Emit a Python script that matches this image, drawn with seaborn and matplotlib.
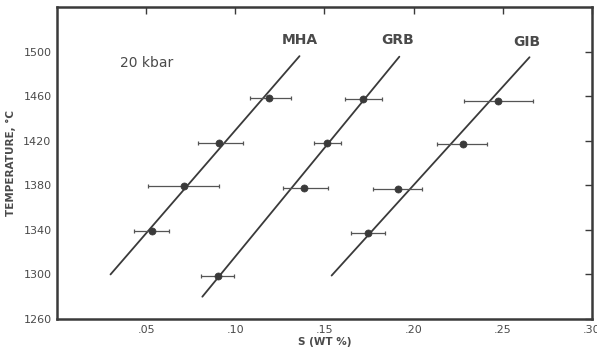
import pandas as pd
import matplotlib
matplotlib.use('Agg')
import matplotlib.pyplot as plt
import seaborn as sns

# Data (S in wt %, temperature in deg C)
samples = ['MHA', 'GRB', 'GIB']

mha_s = [0.053, 0.071, 0.091, 0.119]
mha_t = [1339, 1379, 1418, 1458.5]
mha_lo = [0.043, 0.051, 0.079, 0.108]
mha_hi = [0.063, 0.091, 0.1045, 0.131]

grb_s = [0.0905, 0.1387, 0.1516, 0.1718]
grb_t = [1299, 1378, 1418, 1457.5]
grb_lo = [0.081, 0.127, 0.144, 0.1615]
grb_hi = [0.099, 0.152, 0.159, 0.182]

gib_s = [0.1746, 0.1914, 0.2275, 0.2475]
gib_t = [1337, 1377, 1417, 1455.5]
gib_lo = [0.165, 0.177, 0.213, 0.228]
gib_hi = [0.184, 0.2045, 0.241, 0.267]

# hand-drawn trend lines (end points)
mha_line_s = [0.030, 0.136]
mha_line_t = [1300, 1496]
grb_line_s = [0.0815, 0.192]
grb_line_t = [1280, 1495.5]
gib_line_s = [0.154, 0.265]
gib_line_t = [1299, 1495]

# label positions
label_s = [0.136, 0.191, 0.2636]
label_t = [1504, 1504, 1502]

xticks = [0.05, 0.10, 0.15, 0.20, 0.25, 0.30]
xticklabels = ['.05', '.10', '.15', '.20', '.25', '.30']
yticks = [1260, 1300, 1340, 1380, 1420, 1460, 1500]

# Step 1: build tables
pts = pd.DataFrame({
    'sample': ['MHA'] * 4 + ['GRB'] * 4 + ['GIB'] * 4,
    'S': mha_s + grb_s + gib_s,
    'T': mha_t + grb_t + gib_t,
    'lo': mha_lo + grb_lo + gib_lo,
    'hi': mha_hi + grb_hi + gib_hi,
})
lines = pd.DataFrame({
    'sample': ['MHA'] * 2 + ['GRB'] * 2 + ['GIB'] * 2,
    'S': mha_line_s + grb_line_s + gib_line_s,
    'T': mha_line_t + grb_line_t + gib_line_t,
})

# Step 2: plot
sns.set_style('white')
plt.rcParams['font.family'] = ['DejaVu Sans']
ink = '#3a3a3a'
txt = '#4a4a4a'

fig = plt.figure(figsize=(5.97, 3.54), dpi=100)
ax = fig.add_axes([0.0955, 0.0989, 0.896, 0.881])

sns.lineplot(data=lines, x='S', y='T', units='sample', estimator=None,
             color=ink, linewidth=1.3, ax=ax, legend=False, sort=False)

ax.errorbar(pts['S'], pts['T'],
            xerr=[pts['S'] - pts['lo'], pts['hi'] - pts['S']],
            fmt='none', ecolor='#555555', elinewidth=0.9, capsize=1.5, capthick=0.9)
sns.scatterplot(data=pts, x='S', y='T', color=ink, s=26, edgecolor=ink,
                linewidth=0.5, ax=ax, legend=False, zorder=5)

for name, sx, ty in zip(samples, label_s, label_t):
    ax.text(sx, ty, name, ha='center', va='bottom', fontsize=10,
            fontweight='bold', color=txt)
ax.text(0.0353, 1490, '20 kbar', ha='left', va='center', fontsize=10, color=txt)

ax.set_xlim(0, 0.30)
ax.set_ylim(1260, 1540)
ax.set_xticks(xticks)
ax.set_xticklabels(xticklabels)
ax.set_yticks(yticks)
ax.tick_params(direction='in', length=5, width=1, color=ink, labelsize=8,
               labelcolor=txt, top=True, right=True, pad=4)
ax.set_xlabel('S (WT %)', fontsize=7.5, fontweight='bold', color=txt, labelpad=2)
ax.set_ylabel('TEMPERATURE, °C', fontsize=7.5, fontweight='bold', color=txt, labelpad=5)

for sp in ax.spines.values():
    sp.set_visible(True)
    sp.set_color(ink)
    sp.set_linewidth(1.8)

fig.savefig('out.png', dpi=100)
